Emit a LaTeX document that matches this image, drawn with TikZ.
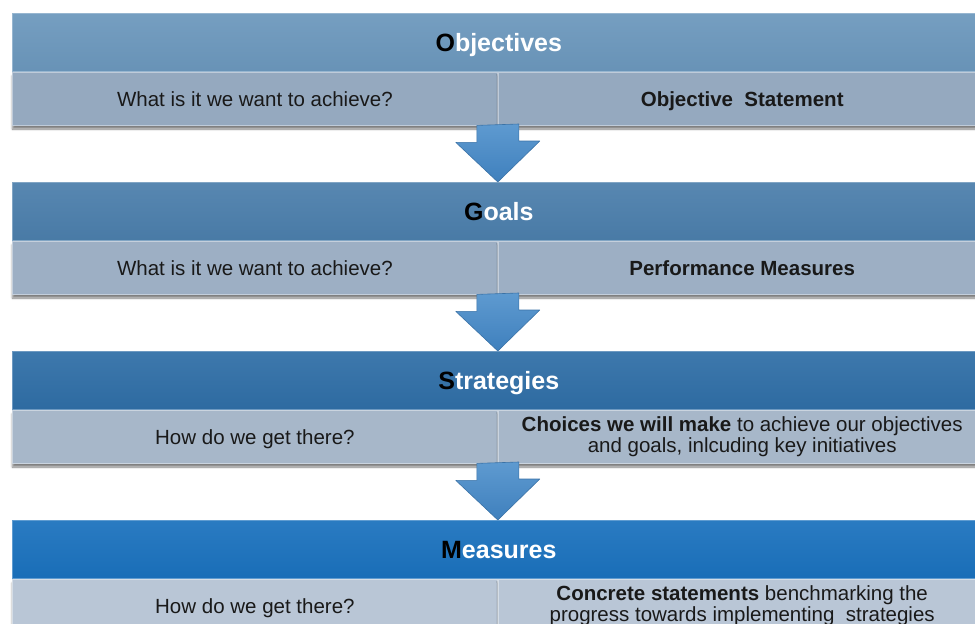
\documentclass[tikz,border=0pt]{standalone}
\usepackage{fontspec}
\setmainfont{Liberation Sans}
\usetikzlibrary{positioning,shadows.blur}

\definecolor{objhead}{HTML}{6B97BC}
\definecolor{goalhead}{HTML}{4B7EAB}
\definecolor{strathead}{HTML}{2F6EA6}
\definecolor{meashead}{HTML}{1A71BD}
\definecolor{objrow}{HTML}{95A9BF}
\definecolor{goalrow}{HTML}{9DAFC4}
\definecolor{stratrow}{HTML}{A7B7C9}
\definecolor{measrow}{HTML}{B9C6D6}
\definecolor{arrowtop}{HTML}{5E9AD0}
\definecolor{arrowbot}{HTML}{3F80BD}
\definecolor{arrowline}{HTML}{3A72A6}

\begin{document}
\begin{tikzpicture}[x=1pt, y=-1pt,
  head/.style={draw=#1!70!white, line width=0.6pt, top color=#1!93!white,
    bottom color=#1!97!black, minimum width=973pt, minimum height=58pt,
    anchor=north west, inner sep=0pt, text=white,
    text height=20.5pt, text depth=1.5pt,
    font=\fontsize{25}{30}\selectfont\bfseries},
  cell/.style={draw=#1!60!white, line width=0.8pt, fill=#1,
    minimum height=53pt, anchor=north west, inner sep=0pt,
    text=black!90, font=\fontsize{20.5}{21}\selectfont, align=center,
    blur shadow={shadow xshift=0pt, shadow yshift=-4pt,
      shadow blur steps=6, shadow opacity=50}},
  leftcell/.style={cell=#1, minimum width=485pt},
  rightcell/.style={cell=#1, minimum width=488pt},
  oneline/.style={text height=17pt, text depth=2pt},
  downarrow/.style={top color=arrowtop, bottom color=arrowbot,
    draw=arrowline, line width=0.6pt, line join=round}]
\clip (0,0) rectangle (975,624);

% Objectives
\node[head=objhead] (obj) at (12,13) {{\color{black}O}bjectives};
\node[leftcell=objrow, oneline] (objL) at (obj.south west) {What is it we want to achieve?};
\node[rightcell=objrow, oneline] (objR) at (objL.north east) {\textbf{Objective\ \ Statement}};

% Goals
\node[head=goalhead] (goal) at (12,182) {{\color{black}G}oals};
\node[leftcell=goalrow, oneline] (goalL) at (goal.south west) {What is it we want to achieve?};
\node[rightcell=goalrow, oneline] (goalR) at (goalL.north east) {\textbf{Performance Measures}};

% Strategies
\node[head=strathead] (strat) at (12,351) {{\color{black}S}trategies};
\node[leftcell=stratrow, oneline] (stratL) at (strat.south west) {How do we get there?};
\node[rightcell=stratrow] (stratR) at (stratL.north east)
  {\textbf{Choices we will make} to achieve our objectives\\
   and goals, inlcuding key initiatives};

% Measures
\node[head=meashead] (meas) at (12,520) {{\color{black}M}easures};
\node[leftcell=measrow, oneline] (measL) at (meas.south west) {How do we get there?};
\node[rightcell=measrow] (measR) at (measL.north east)
  {\textbf{Concrete statements} benchmarking the\\
   progress towards implementing\ \ strategies};

% Arrows between the stages
\draw[downarrow] (objR.south west) ++(-21,0) -- ++(0,17) -- ++(-21,0)
  -- (objR.south west |- goal.north) -- ++(42,-41) -- ++(-21,0) -- ++(0,-17) -- cycle;
\draw[downarrow] (goalR.south west) ++(-21,0) -- ++(0,17) -- ++(-21,0)
  -- (goalR.south west |- strat.north) -- ++(42,-41) -- ++(-21,0) -- ++(0,-17) -- cycle;
\draw[downarrow] (stratR.south west) ++(-21,0) -- ++(0,17) -- ++(-21,0)
  -- (stratR.south west |- meas.north) -- ++(42,-41) -- ++(-21,0) -- ++(0,-17) -- cycle;
\end{tikzpicture}
\end{document}
